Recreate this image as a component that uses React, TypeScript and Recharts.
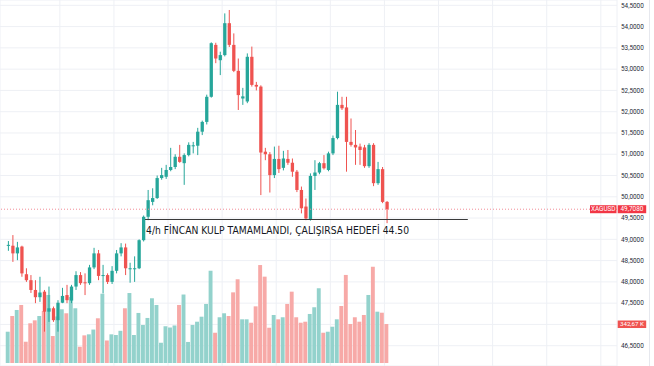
import React from 'react';
import {
  ComposedChart, Bar, XAxis, YAxis, CartesianGrid, ReferenceLine
} from 'recharts';

// XAGUSD 4h candles
const opens = [
  48.85, 48.85, 48.67, 48.83, 48.18, 48.04, 47.81, 47.64, 47.77, 47.30,
  47.38, 47.10, 47.51, 47.69, 47.56, 47.89, 48.16, 47.99, 47.97, 48.34,
  48.67, 48.14, 48.16, 48.00, 48.26, 48.67, 48.81, 48.30, 48.30, 48.32,
  48.98, 49.53, 49.88, 49.97, 50.44, 50.47, 50.63, 50.70, 50.94, 50.79,
  50.98, 51.19, 51.20, 51.53, 51.76, 52.35, 53.57, 53.21, 53.33, 54.08,
  53.57, 52.96, 52.31, 52.24, 53.29, 52.63, 52.59, 51.06, 51.00, 50.51,
  50.89, 50.68, 50.89, 50.80, 50.59, 50.16, 49.77, 49.47, 50.49, 50.57,
  50.79, 50.63, 51.02, 51.38, 52.16, 52.10, 51.29, 51.22, 51.18, 51.16,
  50.72, 51.22, 50.32, 50.65, 49.88,
];
const highs = [
  48.96, 49.10, 48.94, 48.85, 48.32, 48.16, 48.04, 48.12, 47.81, 47.89,
  47.42, 47.57, 47.86, 47.93, 47.93, 48.25, 48.23, 48.20, 48.40, 48.80,
  48.75, 48.40, 48.20, 48.37, 48.75, 48.91, 48.90, 48.45, 48.60, 49.00,
  49.56, 50.16, 50.20, 50.50, 50.68, 50.75, 51.15, 51.00, 51.22, 51.02,
  51.28, 51.29, 51.62, 51.79, 52.40, 53.63, 53.62, 53.41, 54.31, 54.39,
  53.84, 53.25, 52.56, 53.37, 53.53, 52.70, 52.62, 51.15, 51.05, 51.18,
  51.20, 51.08, 51.10, 50.90, 50.63, 50.24, 49.96, 50.55, 50.86, 50.82,
  50.98, 51.06, 51.44, 52.47, 52.35, 52.35, 51.84, 51.57, 51.25, 51.22,
  51.26, 51.26, 50.82, 50.70, 49.90,
];
const lows = [
  48.73, 48.47, 48.51, 48.12, 48.00, 47.74, 47.50, 47.53, 46.83, 47.06,
  47.06, 46.83, 47.50, 47.50, 47.50, 47.81, 47.93, 47.69, 47.93, 48.30,
  48.04, 47.73, 47.95, 47.95, 48.20, 48.60, 48.16, 47.98, 48.00, 48.30,
  48.95, 49.45, 49.80, 49.95, 50.40, 50.42, 50.60, 50.65, 50.80, 50.28,
  50.95, 51.02, 50.98, 51.45, 51.70, 52.33, 53.14, 52.86, 53.30, 53.52,
  52.93, 52.04, 52.16, 52.20, 52.59, 52.50, 50.04, 50.86, 50.10, 50.44,
  50.56, 50.62, 50.75, 50.47, 50.11, 49.61, 49.45, 49.44, 50.16, 50.53,
  50.64, 50.60, 50.98, 51.35, 52.04, 50.59, 51.18, 50.75, 50.75, 50.68,
  50.68, 50.25, 50.28, 49.85, 49.38,
];
const closes = [
  48.87, 48.67, 48.81, 48.20, 48.04, 47.81, 47.64, 47.75, 47.30, 47.38,
  47.10, 47.51, 47.67, 47.57, 47.89, 48.16, 47.97, 47.97, 48.34, 48.67,
  48.14, 48.16, 48.00, 48.26, 48.67, 48.81, 48.32, 48.32, 48.32, 48.98,
  49.53, 49.92, 49.97, 50.44, 50.51, 50.63, 50.70, 50.94, 50.82, 50.98,
  51.22, 51.21, 51.53, 51.76, 52.35, 53.61, 53.25, 53.33, 54.08, 53.57,
  52.96, 52.39, 52.36, 53.29, 52.63, 52.59, 51.04, 51.00, 50.51, 50.89,
  50.65, 50.90, 50.80, 50.59, 50.16, 49.73, 49.49, 50.49, 50.57, 50.79,
  50.67, 51.02, 51.38, 52.16, 52.08, 51.29, 51.22, 51.16, 51.10, 50.72,
  51.22, 50.32, 50.65, 49.88, 49.708,
];
// volume in thousands
const volumes = [
  275, 413, 466, 510, 187, 349, 375, 413, 457, 598,
  237, 409, 472, 437, 580, 481, 143, 243, 252, 294,
  393, 609, 198, 252, 246, 283, 481, 615, 246, 440,
  334, 396, 569, 510, 178, 323, 312, 330, 510, 602,
  185, 334, 363, 407, 519, 811, 266, 402, 437, 413,
  621, 736, 384, 384, 354, 498, 861, 759, 310, 422,
  384, 402, 519, 627, 402, 354, 363, 431, 490, 657,
  266, 275, 319, 384, 501, 774, 343, 402, 363, 422,
  598, 846, 451, 442, 342.67,
];

const priceTicks = [
  46.5, 47, 47.5, 48, 48.5, 49, 49.5, 50, 50.5, 51, 51.5, 52, 52.5, 53, 53.5, 54, 54.5,
];
// this level's label sits under the volume tag in the original
const hiddenTick = 47;
const gridTicks = [0.5, 12.5, 24.5, 36.5, 48.5, 60.5, 72.5, 84.5, 96.5, 108.5, 120.5, 132.5];

const lastPrice = 49.708;
const targetLevel = 49.466;
const noteStart = 31.4;
const noteEnd = 103;
const noteText = '4/h FİNCAN KULP TAMAMLANDI, ÇALIŞIRSA HEDEFİ 44.50';

const UP = '#26a69a';
const DOWN = '#ef5350';
const UP_VOL = '#93d2cc';
const DOWN_VOL = '#f7a9a7';

const data = opens.map((o, k) => ({
  i: k + 1,
  open: o,
  high: highs[k],
  low: lows[k],
  close: closes[k],
  volume: volumes[k],
}));

const fmt = (v: number) => v.toFixed(4).replace('.', ',');

const Candle = (props: any) => {
  const { x, y, width, height, payload } = props;
  if (!payload) return null;
  const { open, close, high, low } = payload;
  const color = close >= open ? UP : DOWN;
  const top = Math.min(y, y + height);
  const h = Math.abs(height);
  const range = high - low || 1;
  const bTop = top + ((high - Math.max(open, close)) / range) * h;
  const bBot = top + ((high - Math.min(open, close)) / range) * h;
  const cx = x + width / 2;
  return (
    <g>
      <line x1={cx} x2={cx} y1={top} y2={top + h} stroke={color} strokeWidth={1} />
      <rect x={x} y={bTop} width={width} height={Math.max(bBot - bTop, 1)} fill={color} />
    </g>
  );
};

const VolBar = (props: any) => {
  const { x, y, width, height, payload } = props;
  if (!payload) return null;
  const fill = payload.close >= payload.open ? UP_VOL : DOWN_VOL;
  return <rect x={x} y={Math.min(y, y + height)} width={width} height={Math.abs(height)} fill={fill} />;
};

const PriceTick = (props: any) => {
  const { x, y, payload } = props;
  if (!payload || payload.value === hiddenTick) return null;
  return (
    <text x={x} y={y} dy="0.35em" fontSize={6.4} fill="#2a2e39" fontFamily="Roboto, sans-serif">
      {fmt(payload.value)}
    </text>
  );
};

const PriceTag = (props: any) => {
  const vb = props.viewBox;
  if (!vb) return null;
  const right = vb.x + vb.width;
  const y = vb.y;
  return (
    <g fontFamily="Roboto, sans-serif" fontSize={6.4}>
      <rect x={right - 27} y={y - 4} width={26.5} height={8} fill="#f23645" />
      <text x={right - 13.75} y={y} dy="0.35em" textAnchor="middle" fill="#fff">XAGUSD</text>
      <rect x={right + 0.7} y={y - 4} width={28.5} height={8} fill="#f23645" />
      <text x={right + 14.95} y={y} dy="0.35em" textAnchor="middle" fill="#fff">{fmt(lastPrice)}</text>
    </g>
  );
};

const VolTag = (props: any) => {
  const vb = props.viewBox;
  if (!vb) return null;
  const right = vb.x + vb.width;
  const y = vb.y;
  return (
    <g fontFamily="Roboto, sans-serif" fontSize={6.2}>
      <rect x={right + 0.7} y={y - 3.5} width={28.5} height={7.5} fill="#ef5350" />
      <text x={right + 14.95} y={y} dy="0.38em" textAnchor="middle" fill="#fff">342,67 K</text>
    </g>
  );
};

const Note = (props: any) => {
  const vb = props.viewBox;
  if (!vb) return null;
  return (
    <text
      x={vb.x + 1}
      y={vb.y + 14}
      fontFamily="'DejaVu Sans', sans-serif"
      fontSize={10.5}
      fill="#131722"
      textLength={263}
      lengthAdjust="spacingAndGlyphs"
    >
      {noteText}
    </text>
  );
};

export default function App() {
  return (
    <div style={{ position: 'absolute', left: 0, top: 0, width: 654, height: 366, background: '#fff' }}>
      <ComposedChart width={654} height={366} data={data} margin={{ top: 0, right: 0, bottom: 0, left: 0 }}>
        <CartesianGrid xAxisId="price" yAxisId="price" stroke="#eef0f5" />
        <XAxis xAxisId="price" dataKey="i" type="number" domain={[-0.775, 136.09]} ticks={gridTicks} allowDataOverflow hide />
        <XAxis xAxisId="vol" dataKey="i" type="number" domain={[-0.775, 136.09]} allowDataOverflow hide />
        <YAxis
          yAxisId="price"
          orientation="right"
          width={37}
          domain={[46.023, 54.625]}
          ticks={priceTicks}
          interval={0}
          allowDataOverflow
          axisLine={false}
          tickLine={false}
          tickSize={0}
          tickMargin={4}
          tick={<PriceTick />}
        />
        <YAxis yAxisId="vol" hide domain={[-26.37, 3190.8]} allowDataOverflow />
        <Bar
          xAxisId="vol"
          yAxisId="vol"
          dataKey="volume"
          barSize={3.9}
          shape={<VolBar />}
          isAnimationActive={false}
        />
        <Bar
          xAxisId="price"
          yAxisId="price"
          dataKey={(d: any) => [d.low, d.high]}
          barSize={3.3}
          shape={<Candle />}
          isAnimationActive={false}
        />
        <ReferenceLine
          xAxisId="price"
          yAxisId="price"
          y={lastPrice}
          stroke="#f28b96"
          strokeDasharray="1 2"
          label={<PriceTag />}
        />
        <ReferenceLine
          xAxisId="vol"
          yAxisId="vol"
          y={volumes[volumes.length - 1]}
          stroke="none"
          label={<VolTag />}
        />
        <ReferenceLine
          xAxisId="price"
          yAxisId="price"
          segment={[{ x: noteStart, y: targetLevel }, { x: noteEnd, y: targetLevel }]}
          stroke="#3a3a3a"
          strokeWidth={1}
          label={<Note />}
        />
      </ComposedChart>
      <div style={{ position: 'absolute', left: 649, top: 0, width: 1, height: 366, background: '#e6e8ee' }} />
    </div>
  );
}
